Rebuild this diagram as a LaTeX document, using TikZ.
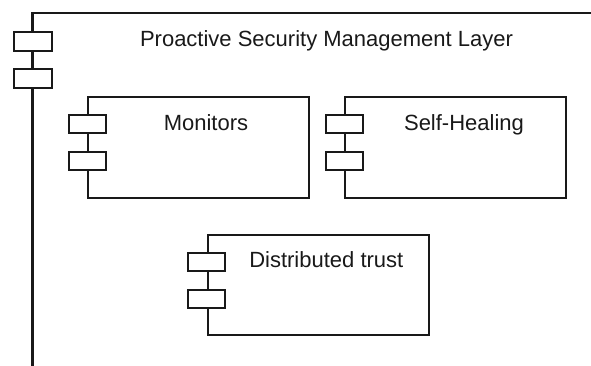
\documentclass[tikz,border=0pt]{standalone}
\usepackage{fontspec}
\setmainfont{Liberation Sans}
\begin{document}
\begin{tikzpicture}[x=1pt,y=-1pt,
  compbox/.style={draw=black!90,line width=2pt,fill=white,rectangle,inner sep=0pt,minimum width=221pt,minimum height=101pt},
  port/.style={draw=black!90,line width=2pt,fill=white,rectangle,inner sep=0pt,minimum width=37pt,minimum height=18pt},
  title/.style={anchor=base,inner sep=0pt,font=\fontsize{22}{26}\selectfont,text=black!90}]
\useasboundingbox (0,0) rectangle (591,365);
\clip (0,0) rectangle (591,365);
% outer component (extends beyond the frame)
\coordinate (otl) at (32.5,13);
\coordinate (obl) at (32.5,400);
\coordinate (otr) at (640,13);
\draw[line width=2.2pt,black!90] (obl) -- (otl) -- (otr);
\node[port,minimum width=38pt,minimum height=19pt] (op1) at (32.5,41) {};
\node[port,minimum width=38pt,minimum height=19pt] (op2) at (32.5,78) {};
\node[title] (otitle) at (326.5,46.7) {Proactive Security Management Layer};
% Monitors
\node[compbox,anchor=north west] (mon) at (87.3,96) {};
\node[port] (mp1) at ([yshift=-28pt]mon.north west) {};
\node[port] (mp2) at ([yshift=-65pt]mon.north west) {};
\node[title] (mt) at (206,130) {Monitors};
% Self-Healing
\node[compbox,anchor=north west] (sh) at (344.3,96) {};
\node[port] (sp1) at ([yshift=-28pt]sh.north west) {};
\node[port] (sp2) at ([yshift=-65pt]sh.north west) {};
\node[title] (st) at (464,130) {Self-Healing};
% Distributed trust
\node[compbox,anchor=north west,minimum height=100pt] (dt) at (206.7,234) {};
\node[port] (dp1) at ([yshift=-28pt]dt.north west) {};
\node[port] (dp2) at ([yshift=-65pt]dt.north west) {};
\node[title] (dtt) at (326.3,267.7) {Distributed trust};
\end{tikzpicture}
\end{document}
